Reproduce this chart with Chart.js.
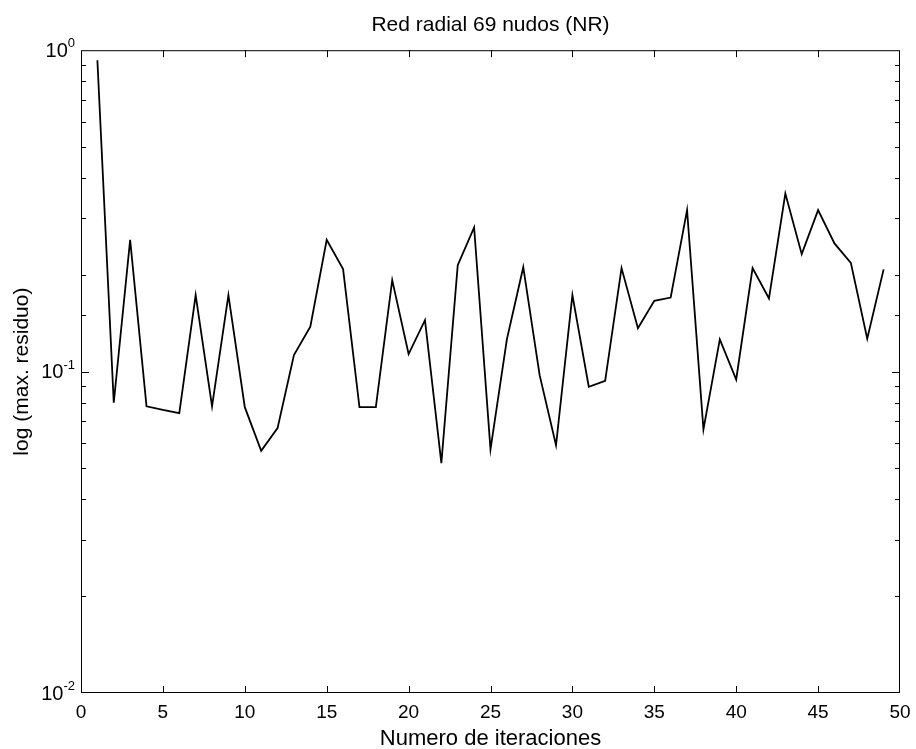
<!DOCTYPE html>
<html>
<head>
<meta charset="utf-8">
<script src="https://cdn.jsdelivr.net/npm/chart.js@4/dist/chart.umd.min.js"></script>
<style>
  body { margin: 0; background: #fff; }
</style>
</head>
<body>
<canvas id="residuoChart" width="916" height="749"></canvas>
<script>
// Iteraciones y residuo maximo
const iteraciones = [1, 2, 3, 4, 5, 6, 7, 8, 9, 10, 11, 12, 13, 14, 15, 16, 17, 18, 19, 20,
    21, 22, 23, 24, 25, 26, 27, 28, 29, 30, 31, 32, 33, 34, 35, 36, 37, 38, 39, 40,
    41, 42, 43, 44, 45, 46, 47, 48, 49];
const maxResiduo = [0.93, 0.080, 0.257, 0.078, 0.076, 0.0743, 0.173, 0.078, 0.173, 0.0775,
    0.0567, 0.0667, 0.1125, 0.138, 0.257, 0.2085, 0.0775, 0.0775, 0.1926, 0.1134,
    0.1446, 0.0519, 0.2144, 0.281, 0.0573, 0.126, 0.2113, 0.0975, 0.059, 0.173,
    0.0897, 0.0936, 0.21, 0.1365, 0.166, 0.170, 0.318, 0.0661, 0.126, 0.0945,
    0.21, 0.169, 0.358, 0.232, 0.318, 0.2505, 0.218, 0.1266, 0.208];
const xTicks = [0, 5, 10, 15, 20, 25, 30, 35, 40, 45, 50];
const yDecades = [-2, -1, 0];

const FONT = '"Liberation Sans", Arial, Helvetica, sans-serif';

// Marco, marcas hacia dentro y etiquetas 10^n
const matlabAxes = {
    id: 'matlabAxes',
    afterDraw(chart) {
        const ctx = chart.ctx;
        const area = chart.chartArea;
        const xs = chart.scales.x;
        const ys = chart.scales.y;
        ctx.save();
        ctx.strokeStyle = '#000';
        ctx.lineWidth = 1;
        ctx.strokeRect(area.left + 0.5, area.top + 0.5, area.right - area.left - 1, area.bottom - area.top - 1);

        ctx.beginPath();
        xTicks.forEach(v => {
            if (v === 0 || v === 50) return;
            const px = Math.round(xs.getPixelForValue(v)) + 0.5;
            ctx.moveTo(px, area.bottom);
            ctx.lineTo(px, area.bottom - 7);
            ctx.moveTo(px, area.top);
            ctx.lineTo(px, area.top + 7);
        });
        ys.ticks.forEach(t => {
            const lg = Math.log10(t.value);
            const major = Math.abs(lg - Math.round(lg)) < 1e-9;
            if (t.value <= 0.01 || t.value >= 1) return;
            const len = major ? 8 : 5;
            const py = Math.round(ys.getPixelForValue(t.value)) + 0.5;
            ctx.moveTo(area.left, py);
            ctx.lineTo(area.left + len, py);
            ctx.moveTo(area.right, py);
            ctx.lineTo(area.right - len, py);
        });
        ctx.stroke();

        ctx.fillStyle = '#000';
        yDecades.forEach(n => {
            const py = ys.getPixelForValue(Math.pow(10, n));
            const expText = String(n);
            ctx.font = '13px ' + FONT;
            const expW = ctx.measureText(expText).width;
            const right = area.left - 6;
            ctx.textAlign = 'left';
            ctx.textBaseline = 'alphabetic';
            ctx.fillText(expText, right - expW, py - 3);
            ctx.font = '20px ' + FONT;
            ctx.textAlign = 'right';
            ctx.textBaseline = 'middle';
            ctx.fillText('10', right - expW, py + 1);
        });
        ctx.restore();
    }
};

var ctx = document.getElementById('residuoChart').getContext('2d');
var residuoChart = new Chart(ctx, {
    type: 'line',
    data: {
        labels: iteraciones,
        datasets: [{
            label: 'max. residuo',
            data: iteraciones.map((it, i) => ({ x: it, y: maxResiduo[i] })),
            borderColor: '#000',
            borderWidth: 1.8,
            pointRadius: 0,
            tension: 0,
            fill: false
        }]
    },
    options: {
        responsive: false,
        animation: false,
        layout: { padding: { left: 0, right: 16, top: 0, bottom: 0 } },
        plugins: {
            legend: { display: false },
            tooltip: { enabled: false },
            title: {
                display: true,
                fullSize: false,
                text: 'Red radial 69 nudos (NR)',
                color: '#000',
                font: { family: FONT, size: 21, weight: 'normal' },
                padding: { top: 13, bottom: 12 }
            }
        },
        scales: {
            x: {
                type: 'linear',
                min: 0,
                max: 50,
                afterBuildTicks: scale => { scale.ticks = xTicks.map(v => ({ value: v })); },
                afterFit: scale => {
                    scale.height = 56;
                    scale.paddingLeft = 0;
                    scale.paddingRight = 0;
                },
                grid: { display: false, drawTicks: false },
                border: { display: false },
                ticks: {
                    color: '#000',
                    padding: 8,
                    maxRotation: 0,
                    font: { family: FONT, size: 19 }
                },
                title: {
                    display: true,
                    text: 'Numero de iteraciones',
                    color: '#000',
                    font: { family: FONT, size: 22 },
                    padding: { top: 0, bottom: -3 }
                }
            },
            y: {
                type: 'logarithmic',
                min: 0.01,
                max: 1,
                afterFit: scale => { scale.width = 81; },
                grid: { display: false, drawTicks: false },
                border: { display: false },
                ticks: { display: false },
                title: {
                    display: true,
                    text: 'log (max. residuo)',
                    color: '#000',
                    font: { family: FONT, size: 21 },
                    padding: { top: 10, bottom: 0 }
                }
            }
        }
    },
    plugins: [matlabAxes]
});
</script>
</body>
</html>
